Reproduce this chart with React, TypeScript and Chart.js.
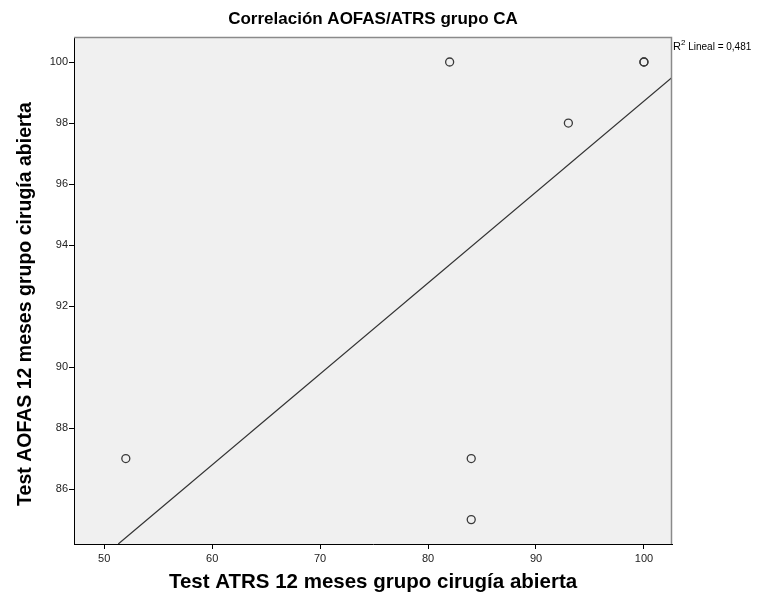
import React, { useEffect, useRef } from "react";
import { Chart, registerables } from "chart.js";

Chart.register(...registerables);

const xValues = [52, 82, 84, 84, 93, 100, 100];
const yValues = [87, 100, 87, 85, 98, 100, 100];
const fitX = [51.3, 102.6];
const fitY = [84.2, 99.49];
const xTicks = [50, 60, 70, 80, 90, 100];
const yTicks = [86, 88, 90, 92, 94, 96, 98, 100];
const titleText = "Correlación AOFAS/ATRS grupo CA";
const xTitle = "Test ATRS 12 meses grupo cirugía abierta";
const yTitle = "Test AOFAS 12 meses grupo cirugía abierta";
const r2Value = "0,481";

const FONT = "'Liberation Sans', Arial, Helvetica, sans-serif";

export default function App() {
  const ref = useRef<HTMLCanvasElement | null>(null);

  useEffect(() => {
    document.body.style.margin = "0";
    const canvas = ref.current;
    if (!canvas) return;

    const framePlugin = {
      id: "frame",
      beforeDraw(chart: any) {
        const { ctx, chartArea: a } = chart;
        ctx.save();
        ctx.fillStyle = "#f0f0f0";
        ctx.fillRect(a.left, a.top, a.right - a.left, a.bottom - a.top);
        ctx.restore();
      },
      afterDraw(chart: any) {
        const { ctx, chartArea: a } = chart;
        ctx.save();
        // top and right frame edges
        ctx.strokeStyle = "#8a8a8a";
        ctx.lineWidth = 1.5;
        ctx.beginPath();
        ctx.moveTo(a.left, a.top + 0.5);
        ctx.lineTo(a.right - 0.5, a.top + 0.5);
        ctx.lineTo(a.right - 0.5, a.bottom);
        ctx.stroke();
        // title
        ctx.fillStyle = "#000";
        ctx.font = `bold 17px ${FONT}`;
        ctx.textAlign = "center";
        ctx.textBaseline = "middle";
        ctx.fillText(titleText, (a.left + a.right) / 2, 19);
        // y axis title
        ctx.save();
        ctx.translate(26, 304);
        ctx.rotate(-Math.PI / 2);
        ctx.font = `bold 19.5px ${FONT}`;
        ctx.fillText(yTitle, 0, 0);
        ctx.restore();
        // R2 label
        ctx.textAlign = "left";
        ctx.textBaseline = "alphabetic";
        ctx.font = `11px ${FONT}`;
        const x0 = a.right + 1;
        const base = a.top + 13;
        ctx.fillText("R", x0, base);
        const rw = ctx.measureText("R").width;
        ctx.font = `8px ${FONT}`;
        ctx.fillText("2", x0 + rw, base - 5);
        const sw = ctx.measureText("2").width;
        ctx.font = `10px ${FONT}`;
        ctx.fillText(" Lineal = " + r2Value, x0 + rw + sw, base);
        ctx.restore();
      },
    };

    const chart = new Chart(canvas, {
      type: "scatter",
      data: {
        datasets: [
          {
            type: "line",
            data: fitX.map((x, i) => ({ x, y: fitY[i] })),
            borderColor: "#333333",
            borderWidth: 1.2,
            pointRadius: 0,
            fill: false,
          } as any,
          {
            data: xValues.map((x, i) => ({ x, y: yValues[i] })),
            pointRadius: 4,
            pointBorderWidth: 1.3,
            pointBorderColor: "#3a3a3a",
            pointBackgroundColor: "rgba(0,0,0,0)",
            clip: false,
          } as any,
        ],
      },
      options: {
        responsive: false,
        animation: false,
        devicePixelRatio: 1,
        layout: { padding: { left: 0, top: 37, right: 105, bottom: 0 } },
        plugins: {
          legend: { display: false },
          tooltip: { enabled: false },
          title: { display: false },
        },
        scales: {
          x: {
            type: "linear",
            min: 47.2,
            max: 102.6,
            afterBuildTicks(scale: any) {
              scale.ticks = xTicks.map((v) => ({ value: v }));
            },
            afterFit(scale: any) {
              scale.height = 58;
            },
            grid: {
              drawOnChartArea: false,
              drawTicks: true,
              tickLength: 5,
              color: "#000",
            },
            border: { display: true, color: "#000", width: 1 },
            ticks: {
              color: "#222",
              font: { family: FONT, size: 11 },
              padding: 3,
              maxRotation: 0,
            },
            title: {
              display: true,
              text: xTitle,
              color: "#000",
              font: { family: FONT, size: 20.5, weight: "bold" },
              padding: { top: 0, bottom: 7 },
            },
          },
          y: {
            type: "linear",
            min: 84.2,
            max: 100.82,
            afterBuildTicks(scale: any) {
              scale.ticks = yTicks.map((v) => ({ value: v }));
            },
            afterFit(scale: any) {
              scale.width = 74;
            },
            grid: {
              drawOnChartArea: false,
              drawTicks: true,
              tickLength: 5,
              color: "#000",
            },
            border: { display: true, color: "#000", width: 1 },
            ticks: {
              color: "#222",
              font: { family: FONT, size: 11 },
              padding: 1,
            },
            title: { display: false },
          },
        },
      },
      plugins: [framePlugin],
    } as any);

    return () => chart.destroy();
  }, []);

  return (
    <div style={{ width: 777, height: 602, background: "#fff" }}>
      <canvas ref={ref} width={777} height={602} style={{ display: "block" }} />
    </div>
  );
}
